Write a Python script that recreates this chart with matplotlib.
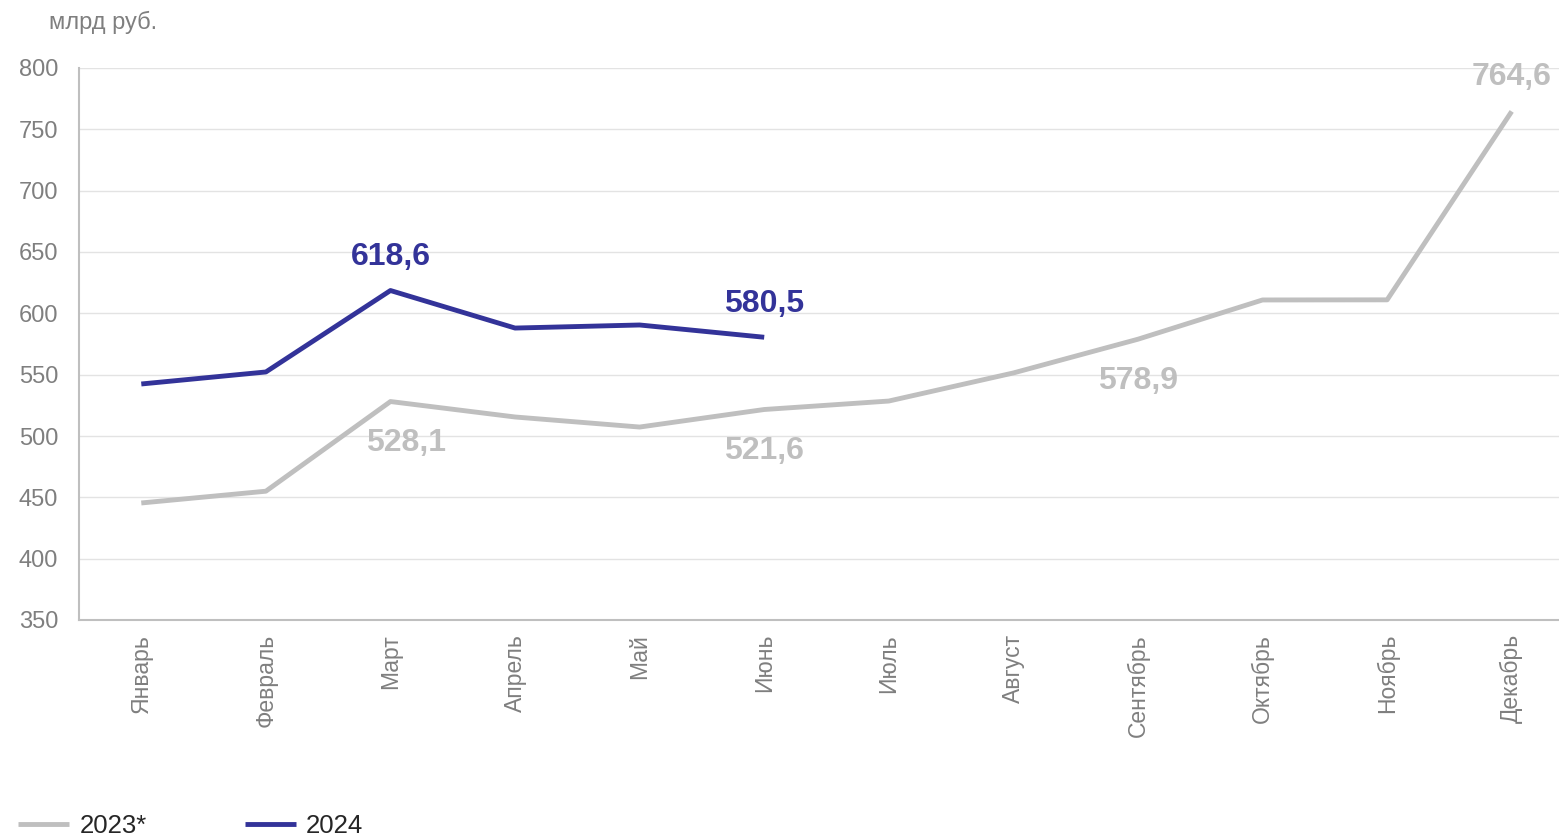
import matplotlib.pyplot as plt

plt.rcParams['font.family'] = ['Liberation Sans', 'DejaVu Sans']

months = ['Январь', 'Февраль', 'Март', 'Апрель', 'Май', 'Июнь',
          'Июль', 'Август', 'Сентябрь', 'Октябрь', 'Ноябрь', 'Декабрь']
values_2023 = [445.4, 455.0, 528.1, 515.5, 507.3, 521.6,
               528.5, 551.4, 578.9, 610.9, 611.0, 764.6]
values_2024 = [542.4, 552.2, 618.6, 588.0, 590.5, 580.5]

labels_2023 = {2: '528,1', 5: '521,6', 8: '578,9', 11: '764,6'}
labels_2024 = {2: '618,6', 5: '580,5'}

gray = '#bfbfbf'
blue = '#333399'

fig = plt.figure(figsize=(15.59, 8.36), dpi=100)
ax = fig.add_axes([79 / 1559, 1 - 620 / 836, 1495 / 1559, 552 / 836])

x23 = range(len(values_2023))
x24 = range(len(values_2024))
ax.plot(x23, values_2023, color=gray, lw=3.5, label='2023*', solid_capstyle='butt')
ax.plot(x24, values_2024, color=blue, lw=3.5, label='2024', solid_capstyle='butt')

for i, txt in labels_2023.items():
    dy = 25 if i == 11 else -30
    dx = 11 if i == 2 else 0
    ax.annotate(txt, (i, values_2023[i]), xytext=(dx, dy), textcoords='offset points',
                ha='center', va='center', fontsize=23, fontweight='bold', color=gray)
for i, txt in labels_2024.items():
    ax.annotate(txt, (i, values_2024[i]), xytext=(0, 24), textcoords='offset points',
                ha='center', va='center', fontsize=23, fontweight='bold', color=blue)

ax.set_xlim(-0.5, 11.5)
ax.set_ylim(350, 800)
ax.set_yticks(range(350, 801, 50))
ax.set_xticks(list(x23))
ax.set_xticklabels(months, rotation=90)
ax.tick_params(axis='both', length=0, labelsize=17, labelcolor='#7f7f7f')
ax.tick_params(axis='x', labelsize=16.5, pad=10)
ax.tick_params(axis='y', pad=15)
ax.grid(axis='y', color='#e3e3e3', lw=1)
ax.set_axisbelow(True)
for s in ['top', 'right']:
    ax.spines[s].set_visible(False)
for s in ['left', 'bottom']:
    ax.spines[s].set_color(gray)
    ax.spines[s].set_linewidth(1.5)

fig.text(49 / 1559, 1 - 22 / 836, 'млрд руб.', fontsize=17, color='#7f7f7f', va='center')

fig.legend(loc='center left', bbox_to_anchor=(18 / 1559, 10 / 836), ncol=2, frameon=False,
           fontsize=18.5, handlelength=2.0, handletextpad=0.4, columnspacing=3.8,
           borderpad=0, borderaxespad=0, labelcolor='#262626')

fig.savefig('out.png', dpi=100)
